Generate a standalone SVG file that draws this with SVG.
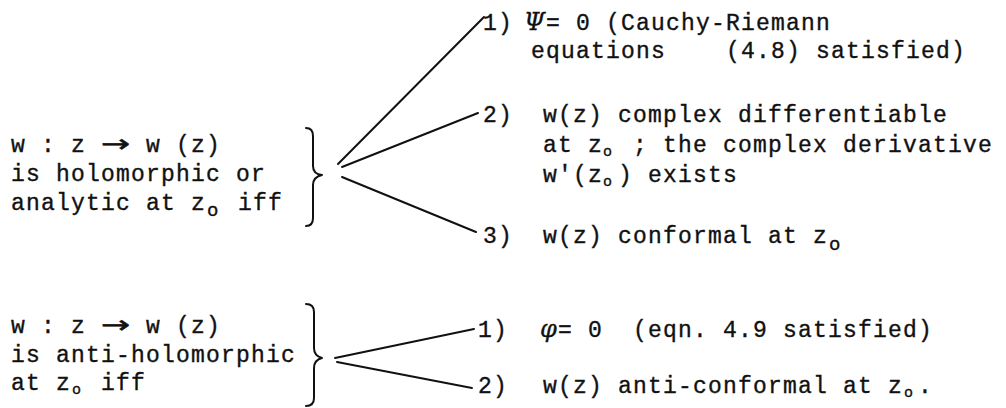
<svg xmlns="http://www.w3.org/2000/svg" width="1006" height="408" viewBox="0 0 1006 408" xml:space="preserve">
<style>
text{font-family:"Liberation Mono","DejaVu Sans Mono",monospace;font-size:23px;letter-spacing:1.2px;fill:#111;stroke:#111;stroke-width:0.35;white-space:pre}
.sub{font-size:15px;letter-spacing:0}
.subL{font-size:19px;letter-spacing:0}
.arrow{font-family:"DejaVu Sans",sans-serif;font-size:24px;letter-spacing:0;stroke-width:0.6}
.greek{font-family:"DejaVu Serif","Liberation Serif",serif;font-style:italic;font-size:24px;letter-spacing:0}
.brace,.conn{fill:none;stroke:#111;stroke-width:2;stroke-linecap:round;stroke-linejoin:round}
</style>
<rect width="1006" height="408" fill="#fff"/>

<g id="node-holomorphic">
<text x="11" y="152">w : z</text>
<text class="arrow" x="101" y="152" textLength="29" lengthAdjust="spacingAndGlyphs">→</text>
<text x="146" y="152">w (z)</text>
<text x="11" y="181">is holomorphic or</text>
<text x="11" y="210">analytic at z</text>
<text class="subL" x="207" y="216">o</text>
<text x="238" y="210">iff</text>
<path class="brace" d="M306,128 Q313,128 313,136 L313,166 Q313,174 322,175 Q313,177 313,185 L313,218 Q313,226 306,226"/>
</g>

<g id="node-antiholomorphic">
<text x="11" y="333">w : z</text>
<text class="arrow" x="101" y="333" textLength="29" lengthAdjust="spacingAndGlyphs">→</text>
<text x="146" y="333">w (z)</text>
<text x="11" y="362">is anti-holomorphic</text>
<text x="11" y="390">at z</text>
<text class="sub" x="72" y="394">o</text>
<text x="101" y="390">iff</text>
<path class="brace" d="M306,304 Q314,304 314,312 L314,348 Q314,356 322,358 Q314,360 314,368 L314,398 Q314,406 306,406"/>
</g>

<g id="node-h1">
<text x="483" y="30">1)</text>
<text class="greek" x="524" y="30">Ψ</text>
<text x="546" y="30">= 0 (Cauchy-Riemann</text>
<text x="531" y="58">equations    (4.8) satisfied)</text>
</g>

<g id="node-h2">
<text x="483" y="122">2)</text>
<text x="543" y="122">w(z) complex differentiable</text>
<text x="543" y="152">at z</text>
<text class="sub" x="603" y="156">o</text>
<text x="618" y="152"> ; the complex derivative</text>
<text x="543" y="182">w'(z</text>
<text class="sub" x="603" y="186">o</text>
<text x="618" y="182">) exists</text>
</g>

<g id="node-h3">
<text x="483" y="243">3)</text>
<text x="543" y="243">w(z) conformal at z</text>
<text class="subL" x="829" y="250">o</text>
</g>

<g id="node-a1">
<text x="478" y="337">1)</text>
<text class="greek" x="540" y="337">φ</text>
<text x="558" y="337">= 0  (eqn. 4.9 satisfied)</text>
</g>

<g id="node-a2">
<text x="478" y="393">2)</text>
<text x="543" y="393">w(z) anti-conformal at z</text>
<text class="sub" x="904" y="397">o</text>
<text x="918" y="393">.</text>
</g>

<g id="connectors">
<path class="conn" d="M338,164 L484,17"/>
<path class="conn" d="M342,167 L478,113"/>
<path class="conn" d="M342,177 L476,232"/>
<path class="conn" d="M335,358 L474,329"/>
<path class="conn" d="M337,362 L472,388"/>
</g>
</svg>
